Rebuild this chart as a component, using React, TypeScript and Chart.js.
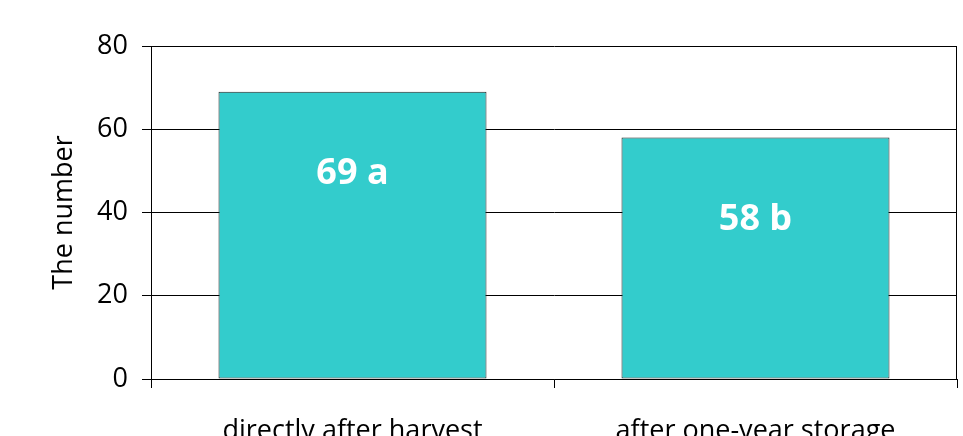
import { useEffect, useRef } from 'react';
import { Chart, registerables } from 'chart.js';

Chart.register(...registerables);

// Data
const categories = ['directly after harvest', 'after one-year storage'];
const counts = [69, 58];
const groupLetters = ['a', 'b'];
const yTickValues = [0, 20, 40, 60, 80];

const FONT = '"Open Sans", "Liberation Sans", sans-serif';

// Writes "value letter" inside each bar, a fixed distance under its top edge
const barLabelPlugin = {
  id: 'barLabels',
  afterDatasetsDraw(chart: any) {
    const ctx = chart.ctx;
    const meta = chart.getDatasetMeta(0);
    ctx.save();
    ctx.fillStyle = '#ffffff';
    ctx.font = `bold 36px ${FONT}`;
    ctx.textAlign = 'center';
    ctx.textBaseline = 'middle';
    meta.data.forEach((bar: any, i: number) => {
      ctx.fillText(`${counts[i]} ${groupLetters[i]}`, bar.x, bar.y + 82);
    });
    ctx.restore();
  },
};

// Closes the plot frame on the right side
const frameRightPlugin = {
  id: 'frameRight',
  afterDraw(chart: any) {
    const { ctx, chartArea } = chart;
    ctx.save();
    ctx.strokeStyle = '#000000';
    ctx.lineWidth = 1;
    const x = Math.round(chartArea.right) - 0.5;
    ctx.beginPath();
    ctx.moveTo(x, chartArea.top);
    ctx.lineTo(x, chartArea.bottom);
    ctx.stroke();
    ctx.restore();
  },
};

export default function App() {
  const canvasRef = useRef<HTMLCanvasElement | null>(null);

  useEffect(() => {
    document.body.style.margin = '0';
    const canvas = canvasRef.current;
    if (!canvas) return;
    const chart = new Chart(canvas, {
      type: 'bar',
      data: {
        labels: categories,
        datasets: [
          {
            data: counts,
            backgroundColor: '#33CCCC',
            borderColor: '#222222',
            borderWidth: 1,
            borderSkipped: false,
            barPercentage: 0.665,
            categoryPercentage: 1,
          },
        ],
      },
      options: {
        animation: false,
        responsive: false,
        maintainAspectRatio: false,
        layout: { padding: { top: 46, right: 6, left: 0, bottom: 0 } },
        plugins: {
          legend: { display: false },
          tooltip: { enabled: false },
        },
        scales: {
          x: {
            offset: true,
            grid: {
              offset: true,
              drawOnChartArea: false,
              drawTicks: true,
              tickLength: 9,
              color: '#000000',
            },
            border: { display: true, color: '#000000', width: 1 },
            ticks: {
              color: '#000000',
              font: { family: FONT, size: 27 },
              padding: 27,
              autoSkip: false,
              maxRotation: 0,
            },
            afterFit(scale: any) {
              scale.height = 57;
            },
          },
          y: {
            min: 0,
            max: 80,
            afterBuildTicks(scale: any) {
              scale.ticks = yTickValues.map((v) => ({ value: v }));
            },
            grid: {
              color: '#000000',
              lineWidth: 1,
              tickLength: 9,
            },
            border: { display: true, color: '#000000', width: 1 },
            ticks: {
              color: '#000000',
              font: { family: FONT, size: 27 },
              padding: 14,
            },
            title: {
              display: true,
              text: 'The number',
              color: '#000000',
              font: { family: FONT, size: 27 },
              padding: { top: 48, bottom: 0 },
            },
            afterFit(scale: any) {
              scale.width = 151;
            },
          },
        },
      },
      plugins: [barLabelPlugin, frameRightPlugin],
    });
    return () => chart.destroy();
  }, []);

  return (
    <div style={{ width: 963, height: 436, background: '#ffffff' }}>
      <canvas ref={canvasRef} width={963} height={436} style={{ display: 'block' }} />
    </div>
  );
}
